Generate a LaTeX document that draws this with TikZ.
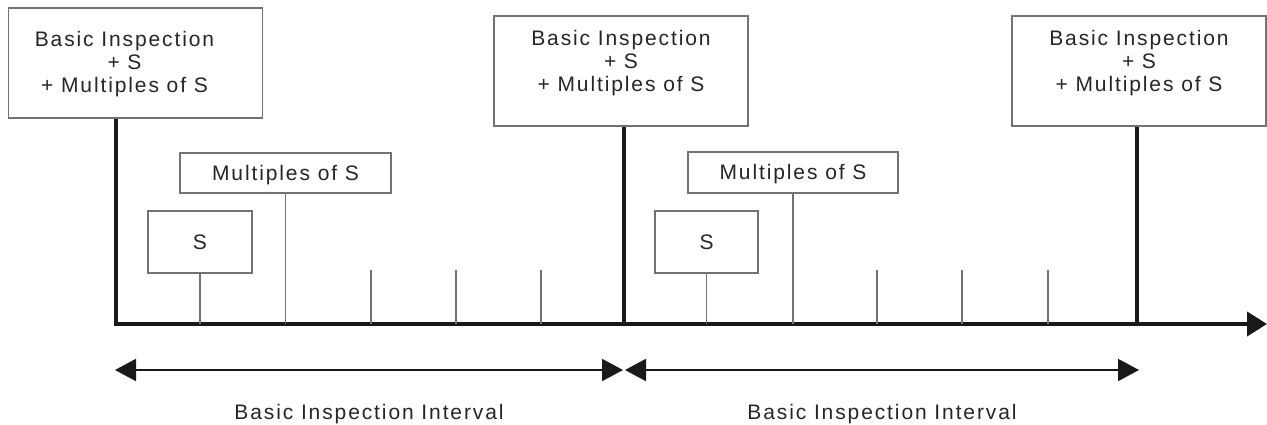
\documentclass[tikz,border=0pt]{standalone}
\usepackage{fontspec}
\setmainfont{Liberation Sans}[LetterSpace=9]
\usepackage{tikz}
\usetikzlibrary{positioning}
\usetikzlibrary{arrows.meta}
\newcommand{\inspect}{\begin{tabular}[b]{@{}c@{}}Basic Inspection\\+ S\\+ Multiples of S\end{tabular}}

\begin{document}
\fontsize{21}{23}\selectfont
\begin{tikzpicture}[ x=1pt, y=-1pt,
    bigbox/.style= {
        draw=black!55,
        line width=1.5pt,
        fill=white,
        text=black!85,
        inner sep=0pt,
        minimum width=254pt,
        anchor=base,
        text height=76pt,
        text depth=34pt },
    smallbox/.style= {
        draw=black!55,
        line width=1.5pt,
        fill=white,
        text=black!85,
        inner sep=0pt,
        text height=15pt,
        text depth=0pt },
    label/.style= {text=black!85, inner sep=0pt, text height=15pt, text depth=0pt},
    main/.style= {line width=4pt, draw=black!90},
    stem/.style= {line width=1.5pt, draw=black!55},
    dim/.style= {
        line width=2pt,
        draw=black!90,
        {Triangle[length=21pt,width=22pt]}-{Triangle[length=21pt,width=22pt]} } ]
    \useasboundingbox (0,0) rectangle (1267,425);
    % inspection boxes
    \node (bi1) [bigbox, text height=85pt, text depth=25pt] at (135.5,93) {\hspace*{-22pt}\inspect};
    \node (bi2) [bigbox] at (621,92) {\inspect};
    \node (bi3) [bigbox] at (1139,92) {\inspect};
    \node (ms1) [smallbox, minimum width=211pt, minimum height=40pt] at (285.5,173) {Multiples of S};
    \node (ms2) [smallbox, minimum width=210pt, minimum height=41pt] at (793,172.5) {Multiples of S};
    \node (s1) [smallbox, minimum width=104pt, minimum height=62pt] at (200,242) {S};
    \node (s2) [smallbox, minimum width=103pt, minimum height=62pt] at (706.5,242) {S};
    % time axis
    \coordinate (start) at (114,324);
    \coordinate (end) at (1267,324);
    \coordinate (a1) at (116,324);
    \coordinate (a2) at (624,324);
    \coordinate (a3) at (1137,324);
    \draw [main, -{Triangle[length=20pt,width=24pt]}] (start) -- (end);
    \draw [main] (a1) -- (a1 |- bi1.south);
    \draw [main] (a2) -- (a2 |- bi2.south);
    \draw [main] (a3) -- (a3 |- bi3.south);
    \draw [stem] (s1) -- (s1 |- start);
    \draw [stem] (ms1) -- (ms1 |- start);
    \draw [stem] (s2) -- (s2 |- start);
    \draw [stem] (ms2) -- (ms2 |- start);
    \foreach \x in {371,456,541,877,962,1048}
        \draw [stem] (\x,324) -- (\x,270);
    % intervals
    \coordinate (d0) at (115,370);
    \coordinate (d1) at (623,370);
    \coordinate (d2) at (625,370);
    \coordinate (d3) at (1139,370);
    \draw [dim] (d0) -- (d1) node (int1) [label, midway, below=33pt] {Basic Inspection Interval};
    \draw [dim] (d2) -- (d3) node (int2) [label, midway, below=33pt] {Basic Inspection Interval};
\end{tikzpicture}
\end{document}
